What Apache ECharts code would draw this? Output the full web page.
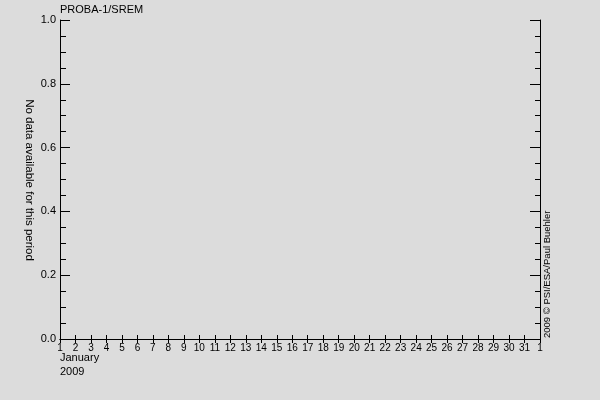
<!DOCTYPE html>
<html><head><meta charset="utf-8">
<script src="https://cdn.jsdelivr.net/npm/echarts@6/dist/echarts.min.js"></script>
<style>html,body{margin:0;padding:0;background:#dcdcdc;}#c{width:600px;height:400px;}</style>
</head><body><div id="c"></div>
<script>
const titleText = 'PROBA-1/SREM';
const yAxisName = 'No data available for this period';
const creditText = '2009 \u00A9 PSI/ESA/Paul Buehler';
const monthLabel = 'January';
const yearLabel = '2009';
const dayTicks = [1,2,3,4,5,6,7,8,9,10,11,12,13,14,15,16,17,18,19,20,21,22,23,24,25,26,27,28,29,30,31,32];
const dayLabels = ['1','2','3','4','5','6','7','8','9','10','11','12','13','14','15','16','17','18','19','20','21','22','23','24','25','26','27','28','29','30','31','1'];
const yTicks = [0.0,0.2,0.4,0.6,0.8,1.0];
const seriesValues = [];

const font = 'Liberation Sans';
const chart = echarts.init(document.getElementById('c'));
const lineStyle = {color:'#000',width:1};
chart.setOption({
  backgroundColor:'#dcdcdc',
  animation:false,
  textStyle:{fontFamily:font,color:'#000'},
  grid:{left:60,right:60,top:20,bottom:61,containLabel:false},
  xAxis:[{
    type:'value',min:dayTicks[0],max:dayTicks[dayTicks.length-1],interval:1,position:'bottom',
    axisLine:{show:true,lineStyle},
    axisTick:{show:true,inside:true,length:4,lineStyle},
    axisLabel:{show:true,color:'#000',fontFamily:font,fontSize:10,margin:4,
      formatter:v=>{const i=dayTicks.indexOf(v);return i>=0?dayLabels[i]:'';}},
    splitLine:{show:false}
  },{
    type:'value',min:dayTicks[0],max:dayTicks[dayTicks.length-1],interval:1,position:'top',
    axisLine:{show:true,lineStyle},
    axisTick:{show:true,inside:true,length:4,lineStyle},
    axisLabel:{show:false},splitLine:{show:false}
  }],
  yAxis:[{
    type:'value',min:yTicks[0],max:yTicks[yTicks.length-1],interval:0.2,position:'left',
    axisLine:{show:true,lineStyle},
    axisTick:{show:true,inside:true,length:10,lineStyle},
    minorTick:{show:true,splitNumber:4,length:6,lineStyle},
    axisLabel:{show:true,color:'#000',fontFamily:font,fontSize:11,margin:4,formatter:v=>v.toFixed(1)},
    splitLine:{show:false},minorSplitLine:{show:false}
  },{
    type:'value',min:yTicks[0],max:yTicks[yTicks.length-1],interval:0.2,position:'right',
    axisLine:{show:true,lineStyle},
    axisTick:{show:true,inside:true,length:10,lineStyle},
    minorTick:{show:true,splitNumber:4,length:5,lineStyle},
    axisLabel:{show:false},splitLine:{show:false},minorSplitLine:{show:false}
  }],
  series:[{type:'line',data:seriesValues,xAxisIndex:0,yAxisIndex:0,symbol:'none'}],
  graphic:[
    {type:'text',left:60,top:4,style:{text:titleText,fill:'#000',font:'11px '+font}},
    {type:'text',left:60,top:352,style:{text:monthLabel,fill:'#000',font:'11px '+font}},
    {type:'text',left:60,top:366,style:{text:yearLabel,fill:'#000',font:'11px '+font}},
    {type:'text',x:29,y:180,rotation:-Math.PI/2,style:{text:yAxisName,fill:'#000',font:'11.5px '+font,align:'center',verticalAlign:'middle'}},
    {type:'text',x:547,y:338,rotation:Math.PI/2,style:{text:creditText,fill:'#000',font:'9.5px '+font,align:'left',verticalAlign:'middle'}}
  ]
});
</script></body></html>
